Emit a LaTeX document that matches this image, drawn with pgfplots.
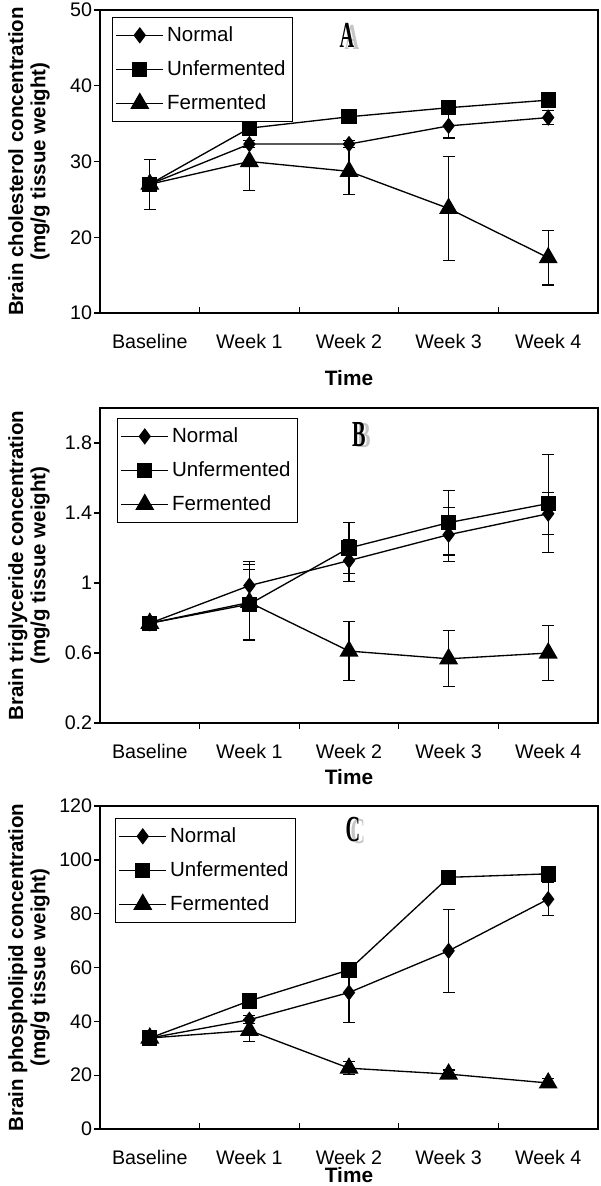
\documentclass[border=0pt]{standalone}
\usepackage{fontspec}
\setmainfont{Liberation Sans}
\newfontfamily\letterfont{Liberation Serif}
\usepackage{graphicx}
\usepackage{pgfplots}
\pgfplotsset{compat=1.18}

\pgfplotsset{
  panel/.style={
    scale only axis, width=298.8pt,
    xmin=-0.5, xmax=4.5,
    xtick={0,1,2,3,4},
    xticklabels={Baseline,Week 1,Week 2,Week 3,Week 4},
    minor xtick={0.5,1.5,2.5,3.5},
    major x tick style={draw=none},
    tick align=outside, xtick pos=bottom, ytick pos=left,
    major tick length=3.6pt, minor tick length=3.6pt,
    tick style={black, line width=0.8pt},
    axis line style={line width=0.9pt},
    tick label style={font=\fontsize{11.8}{13}\selectfont},
    /pgf/number format/assume math mode=true,
    xticklabel style={yshift=-5.5pt},
    yticklabel style={xshift=2.4pt},
    ylabel style={font=\fontsize{12.3}{13.4}\selectfont\bfseries, align=center,
      at={([xshift=-42.6pt]axis description cs:0,0.5)}, anchor=center},
    xlabel={Time},
    xlabel style={font=\fontsize{12.5}{14}\selectfont\bfseries,
      at={(axis description cs:0.5,0)}, anchor=center},
    legend style={anchor=north west, draw=black, line width=0.6pt,
      font=\fontsize{12.3}{14}\selectfont, inner xsep=2pt, inner ysep=3.5pt,
      row sep=6pt},
    legend cell align=left,
    legend image code/.code={\draw[mark repeat=2,mark phase=2,#1]
      plot coordinates {(0pt,0pt)(14pt,0pt)(28pt,0pt)};},
  },
  ser/.style 2 args={black, line width=0.8pt, mark=#1, mark size=#2,
    mark options={solid, fill=black},
    error bars/.cd, y dir=both, y explicit,
    error bar style={black, line width=0.7pt},
    error mark options={rotate=90, black, mark size=3.6pt, line width=0.7pt}},
}

% panel letter with a grey shadow behind it, in one node
\newcommand{\panelletter}[2]{%
  \node[inner sep=0pt] at (#1)
    {\letterfont\bfseries\fontsize{22}{22}\selectfont
     \rlap{\hspace{3pt}\raisebox{-1pt}{\textcolor{gray!45}{\scalebox{0.55}[1]{#2}}}}%
     \scalebox{0.55}[1]{#2}\hspace{3pt}};}

\begin{document}
\begin{tikzpicture}
\useasboundingbox (0,0) rectangle (360pt,-711.6pt);

% A: cholesterol
\begin{axis}[panel, at={(60pt,-187.8pt)}, anchor=south west, height=181.8pt,
  ymin=10, ymax=50, ytick={10,20,30,40,50},
  ylabel={Brain cholesterol concentration\\(mg/g tissue weight)},
  minor x tick style={yshift=3.6pt},
  xlabel style={yshift=-39pt},
  legend style={at={(0.024,0.977)}}]
\addplot[ser={diamond*}{4.3pt}] coordinates {
  (0,27) +- (0,0) (1,32.3) +- (0,0.5) (2,32.3) +- (0,0.5)
  (3,34.7) +- (0,1.6) (4,35.8) +- (0,0.9)};
\addlegendentry{Normal}
\addplot[ser={square*}{4.2pt}] coordinates {
  (0,27) +- (0,0) (1,34.4) +- (0,0) (2,35.9) +- (0,0)
  (3,37.1) +- (0,0) (4,38.1) +- (0,0)};
\addlegendentry{Unfermented}
\addplot[ser={triangle*}{5.8pt}] coordinates {
  (0,27) +- (0,3.3) (1,30.0) +- (0,3.8) (2,28.7) +- (0,3.1)
  (3,23.8) +- (0,6.9) (4,17.3) +- (0,3.6)};
\addlegendentry{Fermented}
\panelletter{axis cs:1.98,46.5}{A}
\end{axis}

% B: triglyceride
\begin{axis}[panel, at={(60pt,-433.8pt)}, anchor=south west, height=189pt,
  ymin=0.2, ymax=2.0, ytick={0.2,0.6,1,1.4,1.8},
  ylabel={Brain triglyceride concentration\\(mg/g tissue weight)},
  xlabel style={yshift=-32.4pt},
  legend style={at={(0.034,0.968)}}]
\addplot[ser={diamond*}{4.3pt}] coordinates {
  (0,0.77) +- (0,0.02) (1,0.985) +- (0,0.14) (2,1.128) +- (0,0.12)
  (3,1.276) +- (0,0.155) (4,1.396) +- (0,0.12)};
\addlegendentry{Normal}
\addplot[ser={square*}{4.2pt}] coordinates {
  (0,0.77) +- (0,0.02) (1,0.879) +- (0,0.2) (2,1.2) +- (0,0.145)
  (3,1.345) +- (0,0.185) (4,1.454) +- (0,0.28)};
\addlegendentry{Unfermented}
\addplot[ser={triangle*}{5.8pt}] coordinates {
  (0,0.77) +- (0,0.02) (1,0.889) +- (0,0.215) (2,0.611) +- (0,0.17)
  (3,0.567) +- (0,0.16) (4,0.6) +- (0,0.155)};
\addlegendentry{Fermented}
\panelletter{axis cs:2.1,1.846}{B}
\end{axis}

% C: phospholipid
\begin{axis}[panel, at={(60pt,-677.4pt)}, anchor=south west, height=193.8pt,
  ymin=0, ymax=120, ytick={0,20,40,60,80,100,120},
  ylabel={Brain phospholipid concentration\\(mg/g tissue weight)},
  minor x tick style={yshift=3.6pt},
  xlabel style={yshift=-27.6pt},
  legend style={at={(0.03,0.963)}}]
\addplot[ser={diamond*}{4.3pt}] coordinates {
  (0,33.8) +- (0,1) (1,40.6) +- (0,1.5) (2,50.7) +- (0,11)
  (3,66.2) +- (0,15.4) (4,85.4) +- (0,6.2)};
\addlegendentry{Normal}
\addplot[ser={square*}{4.2pt}] coordinates {
  (0,33.8) +- (0,0) (1,47.6) +- (0,0) (2,59.1) +- (0,2)
  (3,93.5) +- (0,0) (4,94.8) +- (0,0)};
\addlegendentry{Unfermented}
\addplot[ser={triangle*}{5.8pt}] coordinates {
  (0,33.8) +- (0,1) (1,36.6) +- (0,4) (2,22.6) +- (0,2.5)
  (3,20.4) +- (0,1.5) (4,17.1) +- (0,1.8)};
\addlegendentry{Fermented}
\panelletter{axis cs:2.04,111}{C}
\end{axis}
\end{tikzpicture}
\end{document}
